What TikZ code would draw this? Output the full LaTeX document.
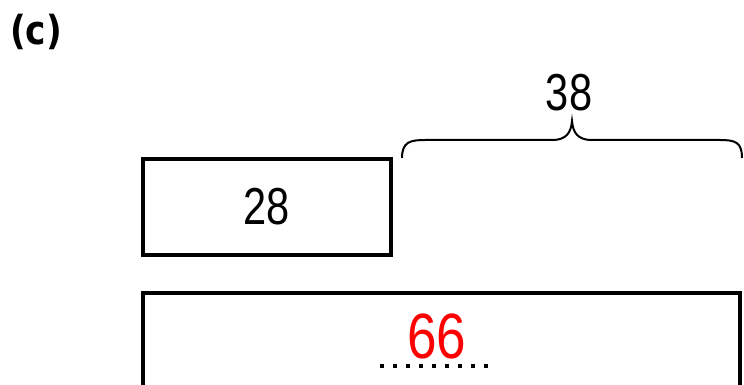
\documentclass[tikz,border=0pt]{standalone}
\usepackage{fontspec}
\usepackage{graphicx}
\setmainfont{Liberation Sans}
\newfontfamily\tagfont{DejaVu Sans}

\begin{document}
\begin{tikzpicture}[x=1pt,y=-1pt,
    bar/.style={draw,line width=3.5pt,inner sep=0pt},
    num/.style={font=\fontsize{52}{52}\selectfont}]
  \useasboundingbox (0,0) rectangle (744,385);
  \clip (0,0) rectangle (744,385);
  \node[font=\tagfont\bfseries\fontsize{40}{40}\selectfont] (tag) at (36,32) {\scalebox{0.86}[1]{(c)}};
  \node[bar,minimum width=248pt,minimum height=96pt,num] (small) at (267,207) {\scalebox{0.8}[1]{28}};
  \draw[line width=3.5pt] (142.75,420) -- (142.75,292.75) -- (740,292.75) -- (740,420);
  \draw[line width=2pt] (402,158) .. controls (402,142) and (410,140) .. (425,140) -- (552,140)
    .. controls (567,140) and (571,132) .. (572,121)
    .. controls (573,132) and (577,140) .. (592,140) -- (720,140)
    .. controls (735,140) and (742,142) .. (742,158);
  \node[num] (diff) at (569,93) {\scalebox{0.8}[1]{38}};
  \node[red,font=\fontsize{64}{64}\selectfont] (total) at (437,336) {\scalebox{0.83}[1]{66}};
  \coordinate (dotl) at (380,366);
  \coordinate (dotr) at (490,366);
  \draw[line width=3.5pt,dash pattern=on 3.5pt off 9.5pt] (dotl) -- (dotr);
\end{tikzpicture}
\end{document}
